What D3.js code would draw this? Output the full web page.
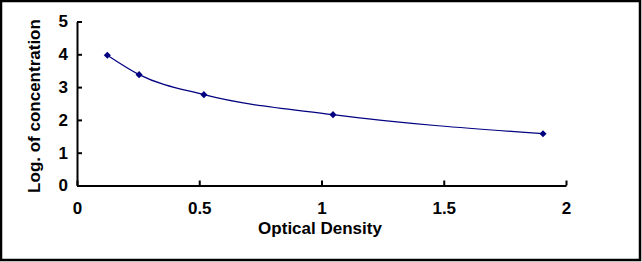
<!DOCTYPE html>
<html>
<head>
<meta charset="utf-8">
<script src="https://cdn.jsdelivr.net/npm/d3@7"></script>
<style>
body { margin: 0; background: #fff; }
text { font-family: "Liberation Sans", Arial, sans-serif; font-weight: bold; }
</style>
</head>
<body>
<script>
// chart values
var od = [0.124, 0.254, 0.519, 1.047, 1.906];
var logConc = [3.97, 3.38, 2.77, 2.16, 1.58];
var xTicks = [0, 0.5, 1, 1.5, 2];
var yTicks = [0, 1, 2, 3, 4, 5];

var W = 642, H = 262;
var svg = d3.select('body').append('svg')
    .attr('width', W)
    .attr('height', H);

// outer frame
svg.append('rect')
    .attr('x', 1).attr('y', 1)
    .attr('width', W - 3).attr('height', H - 3)
    .attr('fill', '#fff')
    .attr('stroke', '#000')
    .attr('stroke-width', 2.5);

var x = d3.scaleLinear().domain([0, 2]).range([77, 566]);
var y = d3.scaleLinear().domain([0, 5]).range([185.5, 21.5]);

var xAxis = svg.append('g')
    .attr('transform', 'translate(0,185.5)')
    .call(d3.axisBottom(x).tickValues(xTicks).tickFormat(d3.format('')).tickSizeInner(-5).tickSizeOuter(0));
var yAxis = svg.append('g')
    .attr('transform', 'translate(77,0)')
    .call(d3.axisLeft(y).tickValues(yTicks).tickFormat(d3.format('')).tickSizeInner(-5).tickSizeOuter(0));

[xAxis, yAxis].forEach(function(g) {
    g.select('.domain').attr('stroke', '#000').attr('stroke-width', 2);
    g.selectAll('.tick line').attr('stroke', '#000').attr('stroke-width', 2);
    g.selectAll('.tick text').attr('fill', '#000').style('font-size', '17px');
});
xAxis.selectAll('.tick text').attr('y', 16);
yAxis.selectAll('.tick text').attr('x', -9);

svg.append('text')
    .attr('x', 320).attr('y', 234)
    .attr('text-anchor', 'middle')
    .style('font-size', '17px')
    .text('Optical Density');

svg.append('text')
    .attr('transform', 'translate(40,106) rotate(-90)')
    .attr('text-anchor', 'middle')
    .style('font-size', '17px')
    .text('Log. of concentration');

var pts = od.map(function(d, i) { return [d, logConc[i]]; });

var line = d3.line()
    .x(function(d) { return x(d[0]); })
    .y(function(d) { return y(d[1]); })
    .curve(d3.curveMonotoneX);

svg.append('path')
    .datum(pts)
    .attr('d', line)
    .attr('fill', 'none')
    .attr('stroke', '#000080')
    .attr('stroke-width', 1.2);

// diamond markers (rotated squares)
svg.selectAll('.pt')
    .data(pts)
    .enter().append('path')
    .attr('class', 'pt')
    .attr('transform', function(d) { return 'translate(' + x(d[0]) + ',' + y(d[1]) + ') rotate(45)'; })
    .attr('d', d3.symbol().type(d3.symbolSquare).size(25))
    .attr('fill', '#000080');
</script>
</body>
</html>
